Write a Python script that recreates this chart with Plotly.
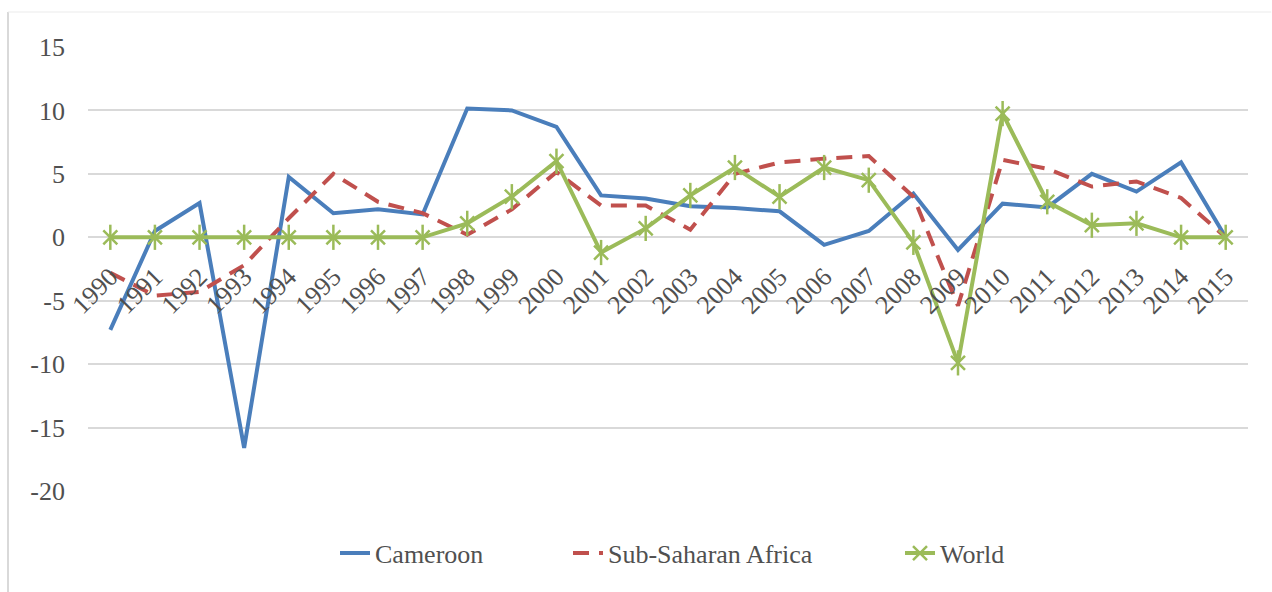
import plotly.graph_objects as go

years = [str(y) for y in range(1990, 2016)]
cameroon = [-7.3, 0.5, 2.7, -16.6, 4.75, 1.9, 2.2, 1.8, 10.15, 10.0, 8.7, 3.3, 3.05, 2.45, 2.3, 2.05,
            -0.6, 0.5, 3.45, -1.0, 2.65, 2.35, 5.0, 3.6, 5.9, 0.0]
ssa = [-2.8, -4.6, -4.3, -2.2, 1.5, 5.0, 2.8, 1.9, 0.2, 2.2, 5.15, 2.5, 2.5, 0.6, 5.0, 5.9,
       6.2, 6.4, 3.2, -5.4, 6.1, 5.4, 4.0, 4.4, 3.1, 0.0]
world = [0, 0, 0, 0, 0, 0, 0, 0, 1.1, 3.2, 6.0, -1.2, 0.7, 3.3, 5.5, 3.2,
         5.5, 4.5, -0.4, -9.9, 9.75, 2.8, 0.95, 1.1, 0.0, 0.0]
y_ticks = [15, 10, 5, 0, -5, -10, -15, -20]
y_ticktext = [str(v) for v in y_ticks]

YMIN, YMAX = -20, 15
BLUE, RED, GREEN = "#4A7EBB", "#C0504D", "#9BBB59"
FONT = "Liberation Serif"
TXT = "#505050"

fig = go.Figure()
fig.add_trace(go.Scatter(x=years, y=cameroon, mode="lines", name="Cameroon", legend="legend",
                         line=dict(color=BLUE, width=4)))
fig.add_trace(go.Scatter(x=years, y=ssa, mode="lines", name="Sub-Saharan Africa", legend="legend2",
                         line=dict(color=RED, width=4, dash="16px,10px")))
fig.add_trace(go.Scatter(x=years, y=world, mode="lines+markers", name="World", legend="legend3",
                         line=dict(color=GREEN, width=4), legendgroup="w",
                         marker=dict(symbol="x-thin-open", size=14, color=GREEN,
                                     line=dict(color=GREEN, width=2.5))))
fig.add_trace(go.Scatter(x=years, y=world, mode="markers", showlegend=False, legendgroup="w",
                         legend="legend3",
                         marker=dict(symbol="line-ns-open", size=18, color=GREEN,
                                     line=dict(color=GREEN, width=2.5)),
                         hoverinfo="skip"))

leg_common = dict(orientation="h", xanchor="left", y=-0.14, yanchor="middle",
                  font=dict(size=26, family=FONT, color=TXT), bgcolor="rgba(0,0,0,0)")

fig.update_layout(
    width=1272, height=592,
    margin=dict(l=88, r=24, t=47, b=101),
    paper_bgcolor="white", plot_bgcolor="white",
    font=dict(family=FONT, color=TXT),
    showlegend=True,
    legend=dict(x=(335 - 88) / 1160, **leg_common),
    legend2=dict(x=(568 - 88) / 1160, **leg_common),
    legend3=dict(x=(900 - 88) / 1160, **leg_common),
    xaxis=dict(type="category", categoryorder="array", categoryarray=years,
               range=[-0.5, len(years) - 0.5], showgrid=False, zeroline=False,
               showline=False, ticks="", tickangle=-45, anchor="free",
               position=(0 - YMIN) / (YMAX - YMIN), ticklabelstandoff=18,
               tickfont=dict(size=26, family=FONT, color=TXT)),
    yaxis=dict(range=[YMIN, YMAX], tickvals=y_ticks, ticktext=y_ticktext, showgrid=True,
               gridcolor="#D9D9D9", gridwidth=2, zeroline=False, showline=False, ticks="",
               ticklabelstandoff=22, tickfont=dict(size=26, family=FONT, color=TXT)),
)

# chart-area border (left and top edges)
fig.add_shape(type="line", xref="paper", yref="paper", x0=-80/1160, x1=-80/1160,
              y0=-0.3, y1=479/444, line=dict(color="#D9D9D9", width=2))
fig.add_shape(type="line", xref="paper", yref="paper", x0=-80/1160, x1=1.02,
              y0=479/444, y1=479/444, line=dict(color="#EBEBEB", width=1))

fig.write_html("out.html")
